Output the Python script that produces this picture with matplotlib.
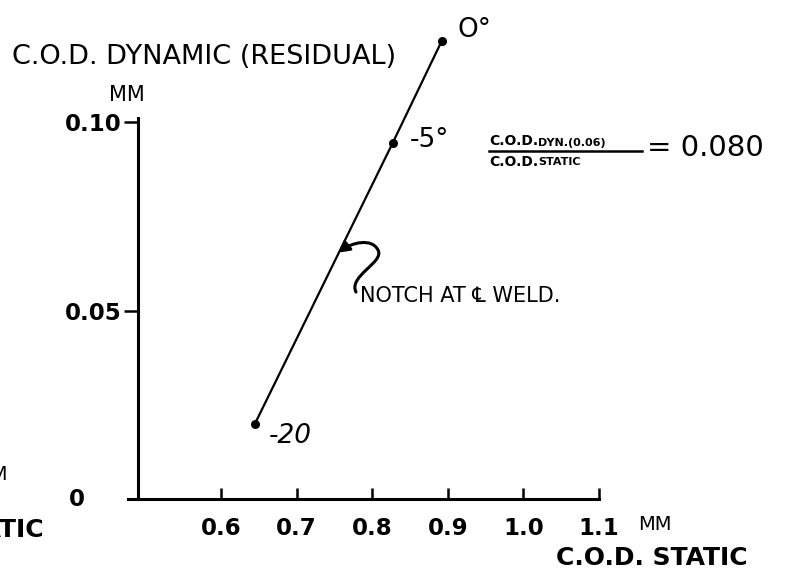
import numpy as np
import matplotlib
matplotlib.use("Agg")
import matplotlib.pyplot as plt
from matplotlib.path import Path
from matplotlib.patches import FancyArrowPatch

# Crack opening displacement: static vs dynamic (residual), by test temperature
cod_static = [0.645, 0.827, 0.892]      # mm
cod_dynamic = [0.020, 0.0944, 0.1215]   # mm
temp_labels = ["-20", "-5°", "O°"]

x_ticks = [0.6, 0.7, 0.8, 0.9, 1.0, 1.1]
x_tick_labels = ["0.6", "0.7", "0.8", "0.9", "1.0", "1.1"]
y_ticks = [0.05, 0.10]
y_tick_labels = ["0.05", "0.10"]
ratio_value = "0.080"

W, H = 807, 581
fig = plt.figure(figsize=(W / 100, H / 100), dpi=100)
fig.patch.set_facecolor("white")

tick_font = dict(family=["DejaVu Sans"], weight="bold", size=16.5)
hand_font = dict(family=["DejaVu Sans"], weight="normal")

ax = fig.add_axes([128 / W, 1 - 499 / H, (599 - 128) / W, 471.25 / H])
ax.set_xlim(0.477, 1.1)
ax.set_ylim(0, 0.125)
ax.patch.set_alpha(0)

for s in ["top", "right"]:
    ax.spines[s].set_visible(False)
ax.spines["left"].set_position(("data", 0.49))
ax.spines["left"].set_bounds(0, 0.101)
ax.spines["bottom"].set_bounds(0.477, 1.1)
for s in ["left", "bottom"]:
    ax.spines[s].set_linewidth(2.2)

ax.set_xticks(x_ticks)
ax.set_xticklabels(x_tick_labels, **tick_font)
ax.tick_params(axis="x", direction="in", length=8, width=1.8, pad=13)
ax.set_yticks(y_ticks)
ax.set_yticklabels(y_tick_labels, **tick_font)
ax.tick_params(axis="y", direction="out", length=10, width=1.8, pad=2)
ax.text(-0.092, 0.0, "0", transform=ax.transAxes, ha="right", va="center", **tick_font)

# Data line and points
ax.plot(cod_static, cod_dynamic, color="black", lw=1.6, solid_capstyle="round")
ax.plot(cod_static, cod_dynamic, "o", color="black", ms=5.5)

offsets = [(10, -9), (12, 2), (11, 8)]
styles = ["italic", "normal", "normal"]
for x, y, lab, off, st in zip(cod_static, cod_dynamic, temp_labels, offsets, styles):
    ax.annotate(lab, (x, y), xytext=off, textcoords="offset points",
                ha="left", va="center", fontsize=19, fontstyle=st, **hand_font)

# Curly leader to the line
tip_x = 0.756
tip_y = float(np.interp(tip_x, cod_static, cod_dynamic))
to_data = lambda px, py: (0.6 + (px - 221) / 756, (499 - py) / 3770)
p0 = to_data(356, 292)
c1 = to_data(348, 276)
c2 = to_data(385, 262)
p1 = to_data(378, 250)
c3 = to_data(372, 238)
c4 = to_data(352, 242)
verts = [p0, c1, c2, p1, c3, c4, (tip_x, tip_y)]
codes = [Path.MOVETO, Path.CURVE4, Path.CURVE4, Path.CURVE4, Path.CURVE4, Path.CURVE4, Path.CURVE4]
arrow = FancyArrowPatch(path=Path(verts, codes), arrowstyle="-|>,head_length=6,head_width=3.5",
                        color="black", lw=2.2, transform=ax.transData)
ax.add_patch(arrow)
ax.text(*to_data(360, 296), "NOTCH AT ℄ WELD.", ha="left", va="center", fontsize=15, **hand_font)

# Axis titles and units
fig.text(12 / W, 1 - 57 / H, "C.O.D. DYNAMIC (RESIDUAL)", ha="left", va="center", fontsize=19.5, **hand_font)
fig.text(127 / W, 1 - 95 / H, "MM", ha="center", va="center", fontsize=15, **hand_font)
fig.text(655 / W, 1 - 524 / H, "MM", ha="center", va="center", fontsize=14, **hand_font)
fig.text(652 / W, 1 - 558 / H, "C.O.D. STATIC", ha="center", va="center", fontsize=18, weight="bold",
         family=["DejaVu Sans"])
fig.text(8 / W, 1 - 474 / H, "MM", ha="right", va="center", fontsize=14, **hand_font)
fig.text(44 / W, 1 - 530 / H, "C.O.D. STATIC", ha="right", va="center", fontsize=18, weight="bold",
         family=["DejaVu Sans"])

# Ratio note
fig.text(489 / W, 1 - 148 / H, "C.O.D.", ha="left", va="bottom", fontsize=10, weight="bold",
         family=["DejaVu Sans"])
fig.text(538 / W, 1 - 148 / H, "DYN.(0.06)", ha="left", va="bottom", fontsize=8, weight="bold",
         family=["DejaVu Sans"])
fig.add_artist(plt.Line2D([489 / W, 642 / W], [1 - 151 / H, 1 - 151 / H], color="black", lw=1.8))
fig.text(489 / W, 1 - 155 / H, "C.O.D.", ha="left", va="top", fontsize=10, weight="bold",
         family=["DejaVu Sans"])
fig.text(538 / W, 1 - 157 / H, "STATIC", ha="left", va="top", fontsize=8, weight="bold",
         family=["DejaVu Sans"])
fig.text(647 / W, 1 - 148 / H, "= " + ratio_value, ha="left", va="center", fontsize=21, **hand_font)

fig.savefig("out.png", dpi=100, facecolor="white")
